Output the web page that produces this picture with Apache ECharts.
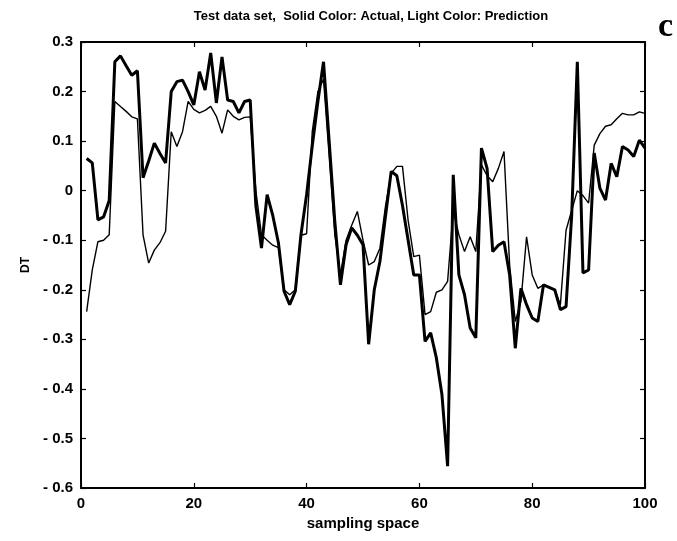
<!DOCTYPE html>
<html>
<head>
<meta charset="utf-8">
<script src="https://cdn.jsdelivr.net/npm/echarts@6/dist/echarts.min.js"></script>
<style>
html,body{margin:0;padding:0;background:#fff;}
#chart{width:677px;height:541px;}
</style>
</head>
<body>
<div id="chart"></div>
<script>
var samples = [1,2,3,4,5,6,7,8,9,10,11,12,13,14,15,16,17,18,19,20,21,22,23,24,25,26,27,28,29,30,31,32,33,34,35,36,37,38,39,40,41,42,43,44,45,46,47,48,49,50,51,52,53,54,55,56,57,58,59,60,61,62,63,64,65,66,67,68,69,70,71,72,73,74,75,76,77,78,79,80,81,82,83,84,85,86,87,88,89,90,91,92,93,94,95,96,97,98,99,100];

var actual = [
 0.065, 0.056,-0.059,-0.053,-0.020, 0.260, 0.272, 0.252, 0.233, 0.242,
 0.026, 0.060, 0.096, 0.075, 0.056, 0.200, 0.220, 0.223, 0.200, 0.173,
 0.240, 0.203, 0.278, 0.177, 0.270, 0.183, 0.180, 0.157, 0.180, 0.183,
-0.030,-0.116,-0.008,-0.050,-0.105,-0.203,-0.230,-0.203,-0.089,-0.008,
 0.090, 0.180, 0.260, 0.100,-0.062,-0.190,-0.109,-0.075,-0.090,-0.109,
-0.310,-0.200,-0.143,-0.050, 0.039, 0.030,-0.030,-0.100,-0.170,-0.170,
-0.304,-0.287,-0.337,-0.412,-0.556, 0.032,-0.170,-0.210,-0.277,-0.297,
 0.086, 0.045,-0.123,-0.110,-0.103,-0.170,-0.318,-0.197,-0.230,-0.257,
-0.264,-0.190,-0.195,-0.200,-0.240,-0.234,-0.050, 0.260,-0.166,-0.160,
 0.076, 0.005,-0.019, 0.055, 0.028, 0.089, 0.082, 0.069, 0.102, 0.086
];

var prediction = [
-0.244,-0.160,-0.103,-0.100,-0.089, 0.180, 0.170, 0.160, 0.149, 0.145,
-0.089,-0.146,-0.120,-0.105,-0.082, 0.119, 0.089, 0.119, 0.180, 0.164,
 0.157, 0.162, 0.170, 0.150, 0.116, 0.163, 0.150, 0.143, 0.148, 0.149,
 0.000,-0.089,-0.100,-0.110,-0.115,-0.200,-0.210,-0.200,-0.090,-0.087,
 0.119, 0.200, 0.225, 0.070,-0.089,-0.170,-0.100,-0.070,-0.042,-0.100,
-0.150,-0.143,-0.116,-0.030, 0.035, 0.049, 0.049,-0.060,-0.133,-0.130,
-0.250,-0.244,-0.205,-0.200,-0.183,-0.040,-0.089,-0.123,-0.093,-0.123,
 0.052, 0.030, 0.018, 0.045, 0.079,-0.150,-0.264,-0.224,-0.093,-0.170,
-0.197,-0.190,-0.195,-0.200,-0.230,-0.080,-0.040, 0.000,-0.010,-0.025,
 0.092, 0.115, 0.130, 0.133, 0.145, 0.156, 0.153, 0.153, 0.159, 0.156
];

var xTicks = [0, 20, 40, 60, 80, 100];
var yTicks = [-0.6, -0.5, -0.4, -0.3, -0.2, -0.1, 0, 0.1, 0.2, 0.3];

var titleText = 'Test data set,  Solid Color: Actual, Light Color: Prediction';
var panelLetter = 'c';
var xName = 'sampling space';
var yName = 'DT';

function pairs(ys){ return samples.map(function(x,i){ return [x, ys[i]]; }); }
function yFmt(v){
  var r = Math.round(v*10)/10;
  if (r === 0) return '0';
  return r < 0 ? '- ' + Math.abs(r).toFixed(1) : r.toFixed(1);
}

var FONT = '"Liberation Sans", Arial, sans-serif';
var chart = echarts.init(document.getElementById('chart'), null, {renderer:'canvas'});
var tickStyle = {show:true, inside:true, length:5, lineStyle:{color:'#000', width:1.2}};
var lineStyleAxis = {show:true, onZero:false, lineStyle:{color:'#000', width:2}};

chart.setOption({
  animation:false,
  backgroundColor:'#fff',
  title:[
    {text:titleText, left:366, top:5, textAlign:'center',
     textStyle:{fontFamily:FONT, fontSize:13, fontWeight:'bold', color:'#000'}},
    {text:panelLetter, left:653, top:5,
     textStyle:{fontFamily:'"Liberation Serif", "DejaVu Serif", serif', fontSize:34, fontWeight:'bold', color:'#000'}}
  ],
  grid:{left:81, right:32, top:42, bottom:53, containLabel:false},
  xAxis:[
    {type:'value', min:0, max:100, interval:20, position:'bottom',
     name:xName, nameLocation:'middle', nameGap:26,
     nameTextStyle:{fontFamily:FONT, fontSize:15, fontWeight:'bold', color:'#000'},
     axisLine:lineStyleAxis, axisTick:tickStyle,
     axisLabel:{margin:8, fontFamily:FONT, fontSize:15, fontWeight:'bold', color:'#000'},
     splitLine:{show:false}},
    {type:'value', min:0, max:100, interval:20, position:'top',
     axisLine:lineStyleAxis, axisTick:tickStyle, axisLabel:{show:false}, splitLine:{show:false}}
  ],
  yAxis:[
    {type:'value', min:-0.6, max:0.3, interval:0.1, position:'left',
     name:yName, nameLocation:'middle', nameGap:46, nameRotate:90,
     nameTextStyle:{fontFamily:FONT, fontSize:12, fontWeight:'bold', color:'#000'},
     axisLine:lineStyleAxis, axisTick:tickStyle,
     axisLabel:{margin:8, fontFamily:FONT, fontSize:15, fontWeight:'bold', color:'#000', formatter:yFmt},
     splitLine:{show:false}},
    {type:'value', min:-0.6, max:0.3, interval:0.1, position:'right',
     axisLine:lineStyleAxis, axisTick:tickStyle, axisLabel:{show:false}, splitLine:{show:false}}
  ],
  series:[
    {name:'Prediction', type:'line', data:pairs(prediction), showSymbol:false, symbol:'none',
     lineStyle:{color:'#000', width:1.4}, z:2},
    {name:'Actual', type:'line', data:pairs(actual), showSymbol:false, symbol:'none',
     lineStyle:{color:'#000', width:3}, z:3}
  ]
});
</script>
</body>
</html>
